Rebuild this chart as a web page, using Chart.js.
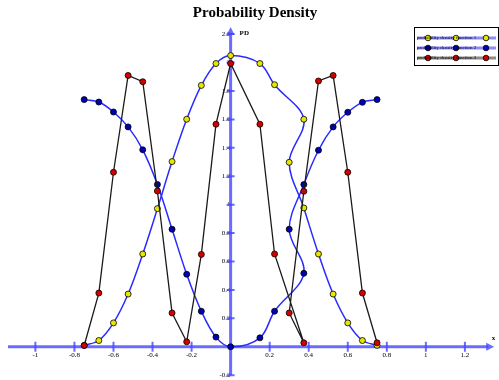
<!DOCTYPE html>
<html>
<head>
<meta charset="utf-8">
<script src="https://cdn.jsdelivr.net/npm/chart.js@4/dist/chart.umd.min.js"></script>
<style>
  body { margin: 0; background: #fff; }
  #caixa { width: 499px; height: 380px; }
</style>
</head>
<body>
<div id="caixa"><canvas id="grafico"></canvas></div>
<script>
// Valores de x (no lado direito a ordem dos pontos vem trocada, como no original)
const valoresX = [-0.75, -0.675, -0.6, -0.525, -0.45, -0.375, -0.3, -0.225, -0.15, -0.075, 0,
                  0.15, 0.225, 0.375, 0.3, 0.375, 0.45, 0.525, 0.6, 0.675, 0.75];

// Densidades
const densidade1 = [0.01, 0.044, 0.168, 0.371, 0.653, 0.972, 1.303, 1.601, 1.839, 1.993, 2.049,
                    1.993, 1.844, 1.601, 1.298, 0.977, 0.653, 0.371, 0.168, 0.044, 0.01];
const densidade2 = [1.739, 1.722, 1.652, 1.547, 1.386, 1.142, 0.827, 0.51, 0.25, 0.068, 0.0,
                    0.063, 0.25, 0.517, 0.827, 1.142, 1.383, 1.547, 1.65, 1.72, 1.739];
const densidade3 = [0.009, 0.378, 1.228, 1.909, 1.865, 1.096, 0.238, 0.035, 0.65, 1.566, 1.993,
                    1.566, 0.653, 0.028, 0.238, 1.094, 1.87, 1.909, 1.228, 0.378, 0.028];

const nomesSeries = ['probability density function 1', 'probability density function 2', 'probability density function 3'];
const tituloGrafico = 'Probability Density';
const rotuloEixoX = 'x';
const rotuloEixoY = 'PD';

const corEixo = 'rgba(70, 70, 255, 0.8)';

function pontos(ys) {
    return valoresX.map((x, i) => ({ x: x, y: ys[i] }));
}

// Zera o espaço que o Chart.js reserva para os eixos centrais
function semEspaco(s) {
    if (s.isHorizontal()) s.height = 0; else s.width = 0;
    s.paddingTop = 0;
    s.paddingBottom = 0;
    s.paddingLeft = 0;
    s.paddingRight = 0;
}

/**
 * Desenha os eixos cruzando na origem, com setas e marcas
 */
const eixosPlugin = {
    id: 'eixos',
    beforeDatasetsDraw(chart) {
        const { ctx, chartArea, scales } = chart;
        const ex = scales.x, ey = scales.y;
        const x0 = ex.getPixelForValue(0);
        const y0 = ey.getPixelForValue(0);
        ctx.save();
        ctx.strokeStyle = corEixo;
        ctx.fillStyle = corEixo;
        ctx.lineWidth = 3;
        ctx.beginPath();
        ctx.moveTo(chartArea.left - 2, y0);
        ctx.lineTo(chartArea.right - 6, y0);
        ctx.moveTo(x0, chartArea.bottom);
        ctx.lineTo(x0, chartArea.top + 6);
        ctx.stroke();

        // setas
        ctx.beginPath();
        ctx.moveTo(chartArea.right, y0);
        ctx.lineTo(chartArea.right - 8, y0 - 4);
        ctx.lineTo(chartArea.right - 8, y0 + 4);
        ctx.fill();
        ctx.beginPath();
        ctx.moveTo(x0, chartArea.top);
        ctx.lineTo(x0 - 4, chartArea.top + 8);
        ctx.lineTo(x0 + 4, chartArea.top + 8);
        ctx.fill();

        // marcas dos ticks
        ctx.lineWidth = 2;
        ctx.beginPath();
        ex.ticks.forEach(t => {
            if (Math.abs(t.value) < 1e-9) return;
            const px = ex.getPixelForValue(t.value);
            ctx.moveTo(px, y0 - 5);
            ctx.lineTo(px, y0 + 5);
        });
        ey.ticks.forEach(t => {
            if (Math.abs(t.value) < 1e-9) return;
            const py = ey.getPixelForValue(t.value);
            ctx.moveTo(x0 - 4, py);
            ctx.lineTo(x0 + 4, py);
        });
        ctx.stroke();

        // rótulos dos eixos
        ctx.fillStyle = '#000';
        ctx.font = 'bold 7px "Liberation Serif"';
        ctx.textAlign = 'left';
        ctx.textBaseline = 'middle';
        ctx.fillText(rotuloEixoY, x0 + 9, chartArea.top + 6);
        ctx.textAlign = 'right';
        ctx.fillText(rotuloEixoX, chartArea.right + 1, y0 - 9);
        ctx.restore();
    }
};

/**
 * Legenda desenhada à mão no canto superior direito
 */
const legendaPlugin = {
    id: 'legendaCaixa',
    afterDraw(chart) {
        const { ctx } = chart;
        const esq = 414, topo = 27, larg = 84, alt = 38;
        ctx.save();
        ctx.fillStyle = '#fff';
        ctx.fillRect(esq, topo, larg, alt);
        ctx.strokeStyle = '#000';
        ctx.lineWidth = 1;
        ctx.strokeRect(esq + 0.5, topo + 0.5, larg, alt);

        chart.data.datasets.forEach((ds, i) => {
            const yl = topo + 11 + i * 10;
            ctx.strokeStyle = ds.legendaLinha;
            ctx.lineWidth = 3;
            ctx.beginPath();
            ctx.moveTo(esq + 3, yl);
            ctx.lineTo(esq + larg - 2, yl);
            ctx.stroke();
            [428, 456, 486].forEach(mx => {
                ctx.beginPath();
                ctx.arc(mx, yl, 2.8, 0, Math.PI * 2);
                ctx.fillStyle = ds.pointBackgroundColor;
                ctx.fill();
                ctx.strokeStyle = '#000';
                ctx.lineWidth = 0.8;
                ctx.stroke();
            });
            ctx.fillStyle = '#000';
            ctx.font = '5px "Liberation Serif"';
            ctx.textAlign = 'left';
            ctx.textBaseline = 'middle';
            ctx.fillText(ds.label, esq + 3, yl);
        });
        ctx.restore();
    }
};

document.addEventListener('DOMContentLoaded', function() {
    const ctx = document.getElementById('grafico').getContext('2d');

    const fonteTicks = { family: 'Liberation Serif', size: 7 };
    const formatar = v => Math.abs(v) < 1e-9 ? '' : String(Math.round(v * 10) / 10);

    new Chart(ctx, {
        type: 'scatter',
        data: {
            datasets: [{
                label: nomesSeries[0],
                data: pontos(densidade1),
                showLine: true,
                borderColor: '#2a2aff',
                legendaLinha: 'rgba(90, 90, 255, 0.7)',
                borderWidth: 1.5,
                tension: 0.35,
                pointRadius: 3,
                pointBackgroundColor: '#e6e600',
                pointBorderColor: '#000',
                pointBorderWidth: 0.8,
                order: 3
            }, {
                label: nomesSeries[1],
                data: pontos(densidade2),
                showLine: true,
                borderColor: '#2a2aff',
                legendaLinha: 'rgba(90, 90, 255, 0.7)',
                borderWidth: 1.5,
                tension: 0.35,
                pointRadius: 3,
                pointBackgroundColor: '#0000b4',
                pointBorderColor: '#000',
                pointBorderWidth: 0.8,
                order: 2
            }, {
                label: nomesSeries[2],
                data: pontos(densidade3),
                showLine: true,
                borderColor: '#1a1a1a',
                legendaLinha: 'rgba(90, 90, 90, 0.7)',
                borderWidth: 1.3,
                tension: 0,
                pointRadius: 3,
                pointBackgroundColor: '#d40000',
                pointBorderColor: '#000',
                pointBorderWidth: 0.8,
                order: 1
            }]
        },
        options: {
            responsive: true,
            maintainAspectRatio: false,
            animation: false,
            layout: { padding: { left: 10, right: -1, bottom: -2, top: 0 } },
            scales: {
                x: {
                    type: 'linear',
                    position: { y: 0 },
                    min: -1.13,
                    max: 1.35,
                    grid: { display: false, drawTicks: false },
                    border: { display: false },
                    afterFit: semEspaco,
                    ticks: {
                        stepSize: 0.2,
                        includeBounds: false,
                        padding: 4,
                        color: '#000',
                        font: fonteTicks,
                        maxRotation: 0,
                        autoSkip: false,
                        callback: formatar
                    }
                },
                y: {
                    type: 'linear',
                    position: { x: 0 },
                    min: -0.2,
                    max: 2.25,
                    grid: { display: false, drawTicks: false },
                    border: { display: false },
                    afterFit: semEspaco,
                    ticks: {
                        stepSize: 0.2,
                        includeBounds: false,
                        padding: 5,
                        color: '#000',
                        font: fonteTicks,
                        autoSkip: false,
                        callback: formatar
                    }
                }
            },
            plugins: {
                legend: { display: false },
                tooltip: { enabled: false },
                title: {
                    display: true,
                    text: tituloGrafico,
                    color: '#000',
                    font: { family: 'Liberation Serif', size: 15, weight: 'bold' },
                    padding: { top: 4, bottom: 5 }
                }
            }
        },
        plugins: [eixosPlugin, legendaPlugin]
    });
});
</script>
</body>
</html>
